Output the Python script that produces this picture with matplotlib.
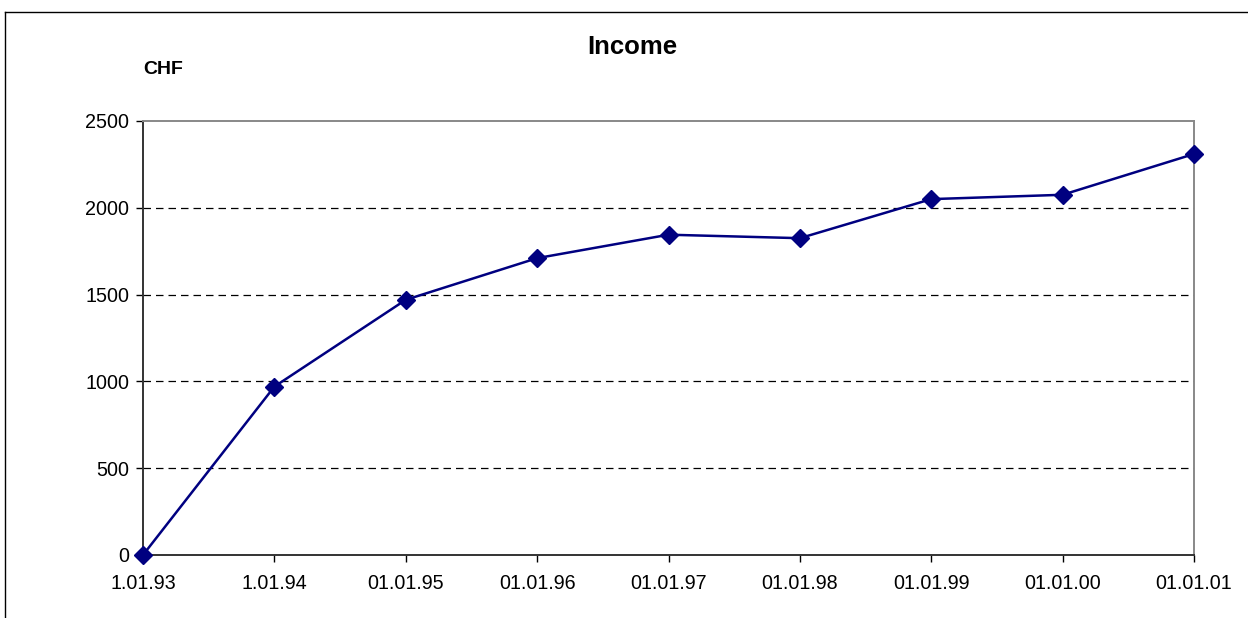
import matplotlib
matplotlib.use("Agg")
import matplotlib.pyplot as plt
from matplotlib.lines import Line2D

plt.rcParams['font.family'] = ['Liberation Sans', 'DejaVu Sans']

# data
dates = ['1.01.93', '1.01.94', '01.01.95', '01.01.96', '01.01.97',
         '01.01.98', '01.01.99', '01.01.00', '01.01.01']
income = [0, 970, 1470, 1710, 1845, 1825, 2050, 2075, 2310]
y_ticks = [0, 500, 1000, 1500, 2000, 2500]

fig = plt.figure(figsize=(12.48, 6.18), dpi=100)
ax = fig.add_axes([143 / 1248, 1 - 555 / 618, (1194 - 143) / 1248, (555 - 121) / 618])

x = list(range(len(dates)))
ax.plot(x, income, color='#000080', lw=1.8, marker='D', markersize=9,
        markerfacecolor='#000080', markeredgecolor='#000080', clip_on=False, zorder=5)

ax.set_xlim(0, len(dates) - 1)
ax.set_ylim(0, 2500)
ax.set_xticks(x)
ax.set_xticklabels(dates, fontsize=14.2)
ax.set_yticks(y_ticks)
ax.set_yticklabels([str(v) for v in y_ticks], fontsize=14.2)
ax.tick_params(axis='both', direction='out', length=5, width=1, color='black')
ax.tick_params(axis='x', pad=9)
ax.tick_params(axis='y', pad=5)

# dashed gridlines
for v in y_ticks[1:-1]:
    ax.axhline(v, color='black', lw=0.9, ls=(0, (6, 4)), zorder=1)

ax.spines['left'].set_color('#333333')
ax.spines['bottom'].set_color('#333333')
ax.spines['top'].set_color('#888888')
ax.spines['right'].set_color('#888888')
for s in ax.spines.values():
    s.set_linewidth(1.4)

fig.text(632 / 1248, 1 - 47 / 618, 'Income', ha='center', va='center',
         fontsize=18.5, fontweight='bold')
fig.text(163 / 1248, 1 - 69 / 618, 'CHF', ha='center', va='center',
         fontsize=14, fontweight='bold')

# outer chart border
fig.add_artist(Line2D([5 / 1248, 5 / 1248], [0, 1 - 12 / 618], transform=fig.transFigure,
                      color='black', lw=1))
fig.add_artist(Line2D([5 / 1248, 1], [1 - 12 / 618, 1 - 12 / 618], transform=fig.transFigure,
                      color='black', lw=1))

fig.savefig('out.png', dpi=100)
